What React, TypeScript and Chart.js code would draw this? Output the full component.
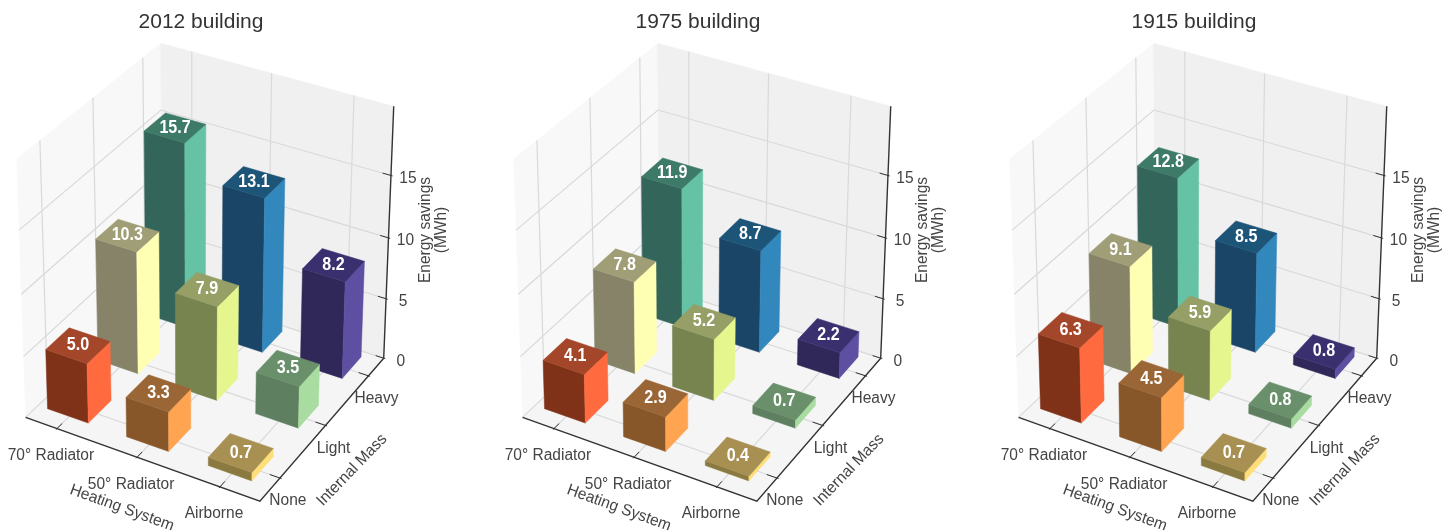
import React, { useEffect, useRef } from "react";
import { Chart, registerables } from "chart.js";

Chart.register(...registerables);

// ---- chart values ----
const heatingSystems = ["70° Radiator", "50° Radiator", "Airborne"];
const internalMasses = ["None", "Light", "Heavy"];
const savingsTicks = [0, 5, 10, 15];

// rows: internal mass (None, Light, Heavy); columns: heating system
const savings2012 = [
  [5.0, 3.3, 0.7],
  [10.3, 7.9, 3.5],
  [15.7, 13.1, 8.2],
];
const savings1975 = [
  [4.1, 2.9, 0.4],
  [7.8, 5.2, 0.7],
  [11.9, 8.7, 2.2],
];
const savings1915 = [
  [6.3, 4.5, 0.7],
  [9.1, 5.9, 0.8],
  [12.8, 8.5, 0.8],
];

const sideColors = [
  ["#FF6B3E", "#FFA552", "#FEDE78"],
  ["#FFFFB4", "#E5F68F", "#A8DCA0"],
  ["#66C2A5", "#3288BD", "#5E4FA2"],
];
const frontColors = [
  ["#7F3218", "#87572A", "#8B7A40"],
  ["#868368", "#778450", "#5E8060"],
  ["#33655A", "#1A4566", "#2F2858"],
];
const topColors = [
  ["#A4462A", "#9A6636", "#A89052"],
  ["#A09E76", "#959F66", "#69906A"],
  ["#3D7A67", "#1D5578", "#3A3070"],
];

// ---- view geometry ----
const W = 458;
const H = 530;
const xRange = [-0.4, 2.47];
const yRange = [-0.42, 2.37];
const zRange = [0, 20.4];
const barLeftX = 0.28;
const barRightX = 0.24;
const barFrontY = 0.18;
const barBackY = 0.27;
const barHeightScale = 0.975;

type V3 = [number, number, number];

// camera calibration: axis-box landmarks and where they fall on the canvas
const calibration: [V3, [number, number]][] = [
  [[0, yRange[0], 0], [58, 429]],
  [[1, yRange[0], 0], [138, 458]],
  [[2, yRange[0], 0], [220, 488]],
  [[xRange[1], 0, 0], [280, 478]],
  [[xRange[1], 1, 0], [325, 427]],
  [[xRange[1], 2, 0], [368, 380]],
  [[xRange[1], yRange[1], 15], [392, 175]],
  [[xRange[1], yRange[1], 10], [389, 236]],
  [[xRange[1], yRange[1], 5], [386, 296]],
  [[xRange[1], yRange[1], 0], [383.5, 355]],
  [[xRange[0], yRange[0], 0], [26, 417]],
  [[xRange[1], yRange[0], 0], [258, 500]],
  [[xRange[0], yRange[0], zRange[1]], [17, 157]],
  [[xRange[0], yRange[1], zRange[1]], [160, 43]],
  [[xRange[1], yRange[1], zRange[1]], [392, 107]],
  [[xRange[0], 0, zRange[1]], [40, 140]],
  [[xRange[0], 1, zRange[1]], [92, 98]],
  [[xRange[0], 2, zRange[1]], [140, 58]],
  [[0, yRange[1], zRange[1]], [193, 52]],
  [[1, yRange[1], zRange[1]], [273, 74]],
  [[2, yRange[1], zRange[1]], [356, 97]],
];

function norm([x, y, z]: V3): V3 {
  return [
    (x - xRange[0]) / (xRange[1] - xRange[0]),
    (y - yRange[0]) / (yRange[1] - yRange[0]),
    (z - zRange[0]) / (zRange[1] - zRange[0]),
  ];
}

function solveCamera(): number[] {
  const n = 11;
  const A = Array.from({ length: n }, () => new Array(n + 1).fill(0));
  const add = (row: number[], rhs: number) => {
    for (let i = 0; i < n; i++) {
      for (let j = 0; j < n; j++) A[i][j] += row[i] * row[j];
      A[i][n] += row[i] * rhs;
    }
  };
  for (const [p, [u, v]] of calibration) {
    const [X, Y, Z] = norm(p);
    const su = u / 100;
    const sv = v / 100;
    add([X, Y, Z, 1, 0, 0, 0, 0, -su * X, -su * Y, -su * Z], su);
    add([0, 0, 0, 0, X, Y, Z, 1, -sv * X, -sv * Y, -sv * Z], sv);
  }
  for (let c = 0; c < n; c++) {
    let piv = c;
    for (let r = c + 1; r < n; r++) if (Math.abs(A[r][c]) > Math.abs(A[piv][c])) piv = r;
    [A[c], A[piv]] = [A[piv], A[c]];
    for (let r = 0; r < n; r++) {
      if (r === c) continue;
      const f = A[r][c] / A[c][c];
      for (let k = c; k <= n; k++) A[r][k] -= f * A[c][k];
    }
  }
  return A.map((row, i) => row[n] / row[i]);
}

const cam = solveCamera();

function project(p: V3) {
  const [X, Y, Z] = norm(p);
  const w = cam[8] * X + cam[9] * Y + cam[10] * Z + 1;
  return {
    x: (100 * (cam[0] * X + cam[1] * Y + cam[2] * Z + cam[3])) / w,
    y: (100 * (cam[4] * X + cam[5] * Y + cam[6] * Z + cam[7])) / w,
  };
}

// ---- datasets ----
function poly(pts: V3[], color: string) {
  return {
    data: pts.map(project),
    polygonFill: color,
    showLine: false,
    pointRadius: 0,
    clip: false,
  };
}
function line(pts: V3[], color: string, width: number) {
  return {
    data: pts.map(project),
    showLine: true,
    borderColor: color,
    borderWidth: width,
    pointRadius: 0,
    tension: 0,
    clip: false,
  };
}

function buildDatasets(values: number[][]) {
  const [x0, x1] = xRange;
  const [y0, y1] = yRange;
  const [z0, z1] = zRange;
  const ds: any[] = [];
  // walls and floor
  ds.push(poly([[x0, y0, z0], [x0, y1, z0], [x0, y1, z1], [x0, y0, z1]], "#F8F8F8"));
  ds.push(poly([[x0, y1, z0], [x1, y1, z0], [x1, y1, z1], [x0, y1, z1]], "#F0F0F0"));
  ds.push(poly([[x0, y0, z0], [x1, y0, z0], [x1, y1, z0], [x0, y1, z0]], "#F5F5F5"));
  // gridlines
  const grid = "#D9D9D9";
  heatingSystems.forEach((_, i) => {
    ds.push(line([[i, y0, z0], [i, y1, z0], [i, y1, z1]], grid, 1.2));
  });
  internalMasses.forEach((_, j) => {
    ds.push(line([[x1, j, z0], [x0, j, z0], [x0, j, z1]], grid, 1.2));
  });
  savingsTicks.forEach((t) => {
    ds.push(line([[x0, y0, t], [x0, y1, t], [x1, y1, t]], grid, 1.2));
  });
  // axis lines and tick marks
  const axis = "#333333";
  ds.push(line([[x0, y0, z0], [x1, y0, z0], [x1, y1, z0]], axis, 1.4));
  ds.push(line([[x1, y1, z0], [x1, y1, z1]], axis, 1.4));
  heatingSystems.forEach((_, i) => {
    ds.push(line([[i, y0 - 0.02, z0], [i, y0 + 0.1, z0]], axis, 1));
  });
  internalMasses.forEach((_, j) => {
    ds.push(line([[x1 + 0.02, j, z0], [x1 - 0.12, j, z0]], axis, 1));
  });
  savingsTicks.forEach((t) => {
    ds.push(line([[x1 + 0.02, y1, t], [x1 - 0.1, y1, t]], axis, 1));
  });
  // bars, far to near
  const cells: [number, number][] = [];
  internalMasses.forEach((_, j) => heatingSystems.forEach((_, i) => cells.push([i, j])));
  cells.sort((a, b) => a[0] - a[1] - (b[0] - b[1]));
  for (const [i, j] of cells) {
    const v = values[j][i] * barHeightScale;
    const a = i - barLeftX;
    const b = i + barRightX;
    const c = j - barFrontY;
    const d = j + barBackY;
    ds.push(poly([[a, c, 0], [b, c, 0], [b, c, v], [a, c, v]], frontColors[j][i]));
    ds.push(poly([[b, c, 0], [b, d, 0], [b, d, v], [b, c, v]], sideColors[j][i]));
    ds.push(poly([[a, c, v], [b, c, v], [b, d, v], [a, d, v]], topColors[j][i]));
  }
  // Chart.js paints the highest `order` first
  ds.forEach((d, k) => (d.order = ds.length - k));
  return ds;
}

const polygonPlugin = {
  id: "polygonFaces",
  beforeDatasetDraw(chart: any, args: any) {
    const ds = chart.data.datasets[args.index];
    if (!ds.polygonFill) return;
    const ctx = chart.ctx;
    ctx.save();
    ctx.beginPath();
    args.meta.data.forEach((pt: any, k: number) => (k ? ctx.lineTo(pt.x, pt.y) : ctx.moveTo(pt.x, pt.y)));
    ctx.closePath();
    ctx.fillStyle = ds.polygonFill;
    ctx.strokeStyle = ds.polygonFill;
    ctx.lineWidth = 0.5;
    ctx.fill();
    ctx.stroke();
    ctx.restore();
  },
};

const FONT = '"Liberation Sans", Arial, sans-serif';

function makeTextPlugin(title: string, values: number[][]) {
  return {
    id: "textLabels",
    afterDraw(chart: any) {
      const ctx = chart.ctx;
      const sx = chart.scales.x;
      const sy = chart.scales.y;
      const at = (p: V3) => {
        const q = project(p);
        return [sx.getPixelForValue(q.x), sy.getPixelForValue(q.y)];
      };
      const text = (s: string, x: number, y: number, font: string, color: string, rot = 0, squeeze = 1) => {
        ctx.save();
        ctx.translate(x, y);
        ctx.rotate((rot * Math.PI) / 180);
        ctx.scale(squeeze, 1);
        ctx.font = font;
        ctx.fillStyle = color;
        ctx.textAlign = "center";
        ctx.textBaseline = "middle";
        ctx.fillText(s, 0, 0);
        ctx.restore();
      };
      const tick = `16px ${FONT}`;
      const ink = "#444444";
      text(title, 201, 22, `21px ${FONT}`, "#333333");
      heatingSystems.forEach((s, i) => {
        const [x, y] = at([i, yRange[0], 0]);
        text(s, x - 6, y + 27, tick, ink, 0, 0.97);
      });
      internalMasses.forEach((s, j) => {
        const [x, y] = at([xRange[1], j, 0]);
        text(s, x + 8, y + 23, tick, ink, 0, 0.97);
      });
      savingsTicks.forEach((t) => {
        const [x, y] = at([xRange[1], yRange[1], t]);
        text(String(t), x + 17, y + 3, tick, ink, 0, 0.97);
      });
      text("Heating System", 122, 508, tick, ink, 20, 0.97);
      text("Internal Mass", 352, 470, tick, ink, -46, 0.97);
      text("Energy savings", 426, 230, tick, ink, -90, 0.97);
      text("(MWh)", 442, 230, tick, ink, -90, 0.97);
      values.forEach((row, j) =>
        row.forEach((v, i) => {
          const [x, y] = at([i + (barRightX - barLeftX) / 2, j + (barBackY - barFrontY) / 2, v * barHeightScale]);
          text(v.toFixed(1), x, y, `bold 17.5px ${FONT}`, "#FFFFFF", 0, 0.92);
        })
      );
    },
  };
}

function Panel({ title, values, left }: { title: string; values: number[][]; left: number }) {
  const ref = useRef<HTMLCanvasElement>(null);
  useEffect(() => {
    const chart = new Chart(ref.current as HTMLCanvasElement, {
      type: "scatter",
      data: { datasets: buildDatasets(values) },
      options: {
        animation: false,
        responsive: false,
        devicePixelRatio: 1,
        events: [],
        layout: { padding: 0 },
        plugins: { legend: { display: false }, tooltip: { enabled: false } },
        scales: {
          x: { type: "linear", min: 0, max: W, display: false },
          y: { type: "linear", min: 0, max: H, reverse: true, display: false },
        },
      },
      plugins: [polygonPlugin, makeTextPlugin(title, values)],
    } as any);
    return () => chart.destroy();
  }, [title, values]);
  return (
    <canvas
      ref={ref}
      width={W}
      height={H}
      style={{ position: "absolute", left, top: 0, width: W, height: H, filter: "blur(0.4px)" }}
    />
  );
}

export default function App() {
  return (
    <div style={{ position: "fixed", left: 0, top: 0, width: 1451, height: 530, background: "#fff", overflow: "hidden" }}>
      <Panel title="2012 building" values={savings2012} left={0} />
      <Panel title="1975 building" values={savings1975} left={497} />
      <Panel title="1915 building" values={savings1915} left={993} />
    </div>
  );
}
